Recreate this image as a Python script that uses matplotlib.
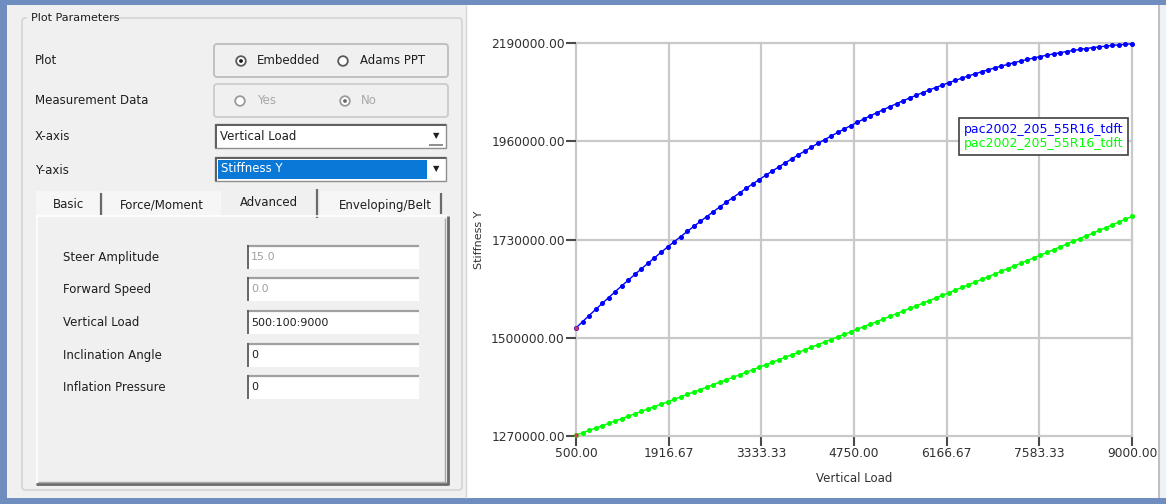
import matplotlib.pyplot as plt
from matplotlib.patches import Rectangle, FancyBboxPatch, Circle

plt.rcParams['font.family'] = ['DejaVu Sans']

# data (vertical load 500:100:9000)
vertical_load = list(range(500, 9001, 100))
stiffness_blue = [
    1523000, 1537600, 1552000, 1566200, 1580300, 1594200, 1608000, 1621600, 1635000, 1648300,
    1661400, 1674400, 1687200, 1699900, 1712300, 1724700, 1736800, 1748800, 1760600, 1772300,
    1783800, 1795200, 1806400, 1817400, 1828300, 1839000, 1849600, 1860000, 1870200, 1880300,
    1890200, 1899900, 1909500, 1918900, 1928200, 1937300, 1946300, 1955100, 1963700, 1972200,
    1980500, 1988600, 1996600, 2004400, 2012100, 2019600, 2026900, 2034100, 2041100, 2048000,
    2054700, 2061200, 2067600, 2073800, 2079900, 2085800, 2091500, 2097100, 2102500, 2107800,
    2112800, 2117800, 2122600, 2127200, 2131600, 2135900, 2140000, 2144000, 2147800, 2151500,
    2155000, 2158300, 2161500, 2164500, 2167300, 2170000, 2172500, 2174900, 2177100, 2179100,
    2181000, 2182700, 2184300, 2185700, 2186900, 2188000]
stiffness_green = [
    1272000, 1277500, 1283000, 1288600, 1294100, 1299700, 1305200, 1310800, 1316400, 1322000,
    1327600, 1333200, 1338900, 1344500, 1350200, 1355900, 1361600, 1367300, 1373000, 1378700,
    1384500, 1390200, 1396000, 1401800, 1407500, 1413400, 1419200, 1425000, 1430800, 1436700,
    1442500, 1448400, 1454300, 1460200, 1466100, 1472000, 1478000, 1483900, 1489900, 1495900,
    1501900, 1507900, 1513900, 1519900, 1525900, 1532000, 1538000, 1544100, 1550200, 1556300,
    1562400, 1568500, 1574700, 1580800, 1587000, 1593100, 1599300, 1605500, 1611700, 1617900,
    1624200, 1630400, 1636700, 1642900, 1649200, 1655500, 1661800, 1668200, 1674500, 1680800,
    1687200, 1693600, 1699900, 1706300, 1712700, 1719200, 1725600, 1732000, 1738500, 1745000,
    1751400, 1757900, 1764400, 1770900, 1777500, 1784000]
series_names = ['pac2002_205_55R16_tdft', 'pac2002_205_55R16_tdft']
x_ticks = [500.00, 1916.67, 3333.33, 4750.00, 6166.67, 7583.33, 9000.00]
y_ticks = [1270000, 1500000, 1730000, 1960000, 2190000]

# form texts
top_labels = ['Plot', 'Measurement Data', 'X-axis', 'Y-axis']
tab_names = ['Basic', 'Force/Moment', 'Advanced', 'Enveloping/Belt']
field_labels = ['Steer Amplitude', 'Forward Speed', 'Vertical Load', 'Inclination Angle', 'Inflation Pressure']
field_values = ['15.0', '0.0', '500:100:9000', '0', '0']
field_enabled = [False, False, True, True, True]

fs = 8.5
txt = '#1e1e1e'

fig = plt.figure(figsize=(11.66, 5.04), dpi=100)
fig.patch.set_facecolor('#6f8ebf')

ui = fig.add_axes([0, 0, 1, 1])
ui.set_xlim(0, 1166)
ui.set_ylim(504, 0)
ui.axis('off')


def box(x0, y0, x1, y1, fc='none', ec='none', lw=1):
    ui.add_patch(Rectangle((x0, y0), x1 - x0, y1 - y0, facecolor=fc, edgecolor=ec, linewidth=lw))


def rbox(x0, y0, x1, y1, fc='none', ec='none', lw=1):
    ui.add_patch(FancyBboxPatch((x0, y0), x1 - x0, y1 - y0, boxstyle='round,pad=0,rounding_size=3',
                                facecolor=fc, edgecolor=ec, linewidth=lw))


def line(xs, ys, c, lw=1):
    ui.plot(xs, ys, color=c, lw=lw, solid_capstyle='butt')


def label(x, y, s, c=txt, size=fs, ha='left'):
    ui.text(x, y, s, color=c, fontsize=size, ha=ha, va='center')


def radio(x, y, on, enabled=True):
    ec = '#5a5a5a' if enabled else '#9a9a9a'
    ui.add_patch(Circle((x, y), 4.8, facecolor='white', edgecolor=ec, linewidth=1.3))
    if on:
        ui.add_patch(Circle((x, y), 1.9, facecolor='#1a1a1a' if enabled else '#6a6a6a', edgecolor='none'))


# left panel
box(7, 5, 467, 498, fc='#f0f0f0')
line([466, 466], [5, 498], '#d6d6d6', 1)
rbox(22, 18, 462, 490, ec='#cfcfcf', lw=1)
box(27, 11, 111, 25, fc='#f0f0f0')
label(31, 18, 'Plot Parameters', size=8)

# top rows
for lab, y in zip(top_labels, [61, 101, 137, 170]):
    label(35, y, lab)

rbox(214, 44, 448, 77, fc='#f0f0f0', ec='#bdbdbd', lw=1.3)
radio(241, 61, True)
label(257, 61, 'Embedded')
radio(343, 61, False)
label(360, 61, 'Adams PPT')

rbox(214, 84, 448, 117, fc='#f0f0f0', ec='#cccccc', lw=1.3)
radio(240, 101, False, False)
label(257, 101, 'Yes', c='#a8a8a8')
radio(345, 101, True, False)
label(361, 101, 'No', c='#a8a8a8')

box(215, 124, 446, 148, fc='white', ec='#8e8e8e', lw=1)
line([215.5, 215.5], [124, 148], '#5e5e5e', 1.4)
line([215, 446], [124.5, 124.5], '#5e5e5e', 1.4)
label(220, 136, 'Vertical Load')
label(436, 136, '\u25bc', size=6, ha='center')
line([429, 443], [145, 145], '#8e8e8e', 1.4)

box(215, 157, 446, 181, fc='white', ec='#8e8e8e', lw=1)
line([215.5, 215.5], [157, 181], '#5e5e5e', 1.4)
line([215, 446], [157.5, 157.5], '#5e5e5e', 1.4)
box(218, 160, 427, 179, fc='#0a78d6')
label(221, 169, 'Stiffness Y', c='white')
label(436, 169, '\u25bc', size=6, ha='center')

# tabs
box(36, 191, 100, 216, fc='#f6f6f6')
box(103, 191, 221, 216, fc='#f6f6f6')
box(320, 191, 440, 216, fc='#f6f6f6')
for name, xc, yc in zip(tab_names, [68, 162, 269, 385], [205, 205, 202, 205]):
    label(xc, yc, name, ha='center')
line([101, 101], [193, 215], '#6a6a6a', 1.6)
line([317, 317], [189, 218], '#6a6a6a', 1.6)
line([441, 441], [193, 214], '#6a6a6a', 1.6)

# tab page
line([36, 447], [216, 216], '#ffffff', 1.2)
line([36.5, 36.5], [216, 484], '#ffffff', 1.2)
line([447.5, 447.5], [216, 485], '#6a6a6a', 2)
line([36, 448], [484, 484], '#6a6a6a', 2)
line([445, 445], [218, 482], '#a8a8a8', 1)
line([38, 446], [482, 482], '#a8a8a8', 1)

for lab, val, en, y0 in zip(field_labels, field_values, field_enabled, [245, 277, 310, 343, 375]):
    label(63, y0 + 12.5, lab)
    box(247, y0, 419, y0 + 24, fc='white')
    line([247, 419], [y0 + 0.8, y0 + 0.8], '#a0a0a0', 1.6)
    line([247.6, 247.6], [y0, y0 + 24], '#5a5a5a', 1.3)
    label(251, y0 + 12.5, val, c=txt if en else '#a0a0a0', size=8)

# right panel
box(467, 5, 1166, 498, fc='white')
line([1159, 1159], [5, 498], '#b4b4b4', 1.2)
box(1160, 5, 1166, 498, fc='#eef1f6')

# plot
ax = fig.add_axes([576 / 1166, 68 / 504, 556 / 1166, 393 / 504])
ax.set_facecolor('white')
ax.plot(vertical_load, stiffness_blue, color='#0000ff', marker='o', ms=2.6, lw=1,
        clip_on=False, zorder=3, label=series_names[0])
ax.plot(vertical_load, stiffness_green, color='#00ff00', marker='o', ms=2.6, lw=1,
        clip_on=False, zorder=3, label=series_names[1])
ax.plot(vertical_load[:1], stiffness_blue[:1], 'o', color='#e0304a', ms=2, clip_on=False, zorder=4)
ax.plot(vertical_load[:1], stiffness_green[:1], 'o', color='#e0304a', ms=2, clip_on=False, zorder=4)

ax.set_xlim(x_ticks[0], x_ticks[-1])
ax.set_ylim(y_ticks[0], y_ticks[-1])
ax.set_xticks(x_ticks)
ax.set_xticklabels(['%.2f' % v for v in x_ticks])
ax.set_yticks(y_ticks)
ax.set_yticklabels(['%.2f' % v for v in y_ticks])
for s in ax.spines.values():
    s.set_visible(False)
ax.grid(True, color='#c9c9c9', lw=1.6)
for gl in ax.get_xgridlines() + ax.get_ygridlines():
    gl.set_clip_on(False)
ax.set_axisbelow(True)
ax.tick_params(direction='out', length=7, width=1.5, color='#4a4a4a', labelsize=8.8,
               labelcolor='#303030', pad=1)

ax.set_xlabel('Vertical Load', fontsize=8.5, color='#303030', va='center')
ax.xaxis.set_label_coords(0.5, -0.109)
ax.set_ylabel('Stiffness Y', fontsize=8, color='#303030', va='center')
ax.yaxis.set_label_coords(-0.175, 0.5)

leg = ax.legend(loc='upper right', bbox_to_anchor=(0.993, 0.809), handlelength=0, handletextpad=0,
                labelcolor='linecolor', fontsize=9, fancybox=False, edgecolor='#404040',
                framealpha=1, labelspacing=0.1, borderpad=0.4, borderaxespad=0)
for h in leg.legend_handles:
    h.set_visible(False)
leg.get_frame().set_linewidth(1.2)

fig.savefig('out.png', dpi=100)
